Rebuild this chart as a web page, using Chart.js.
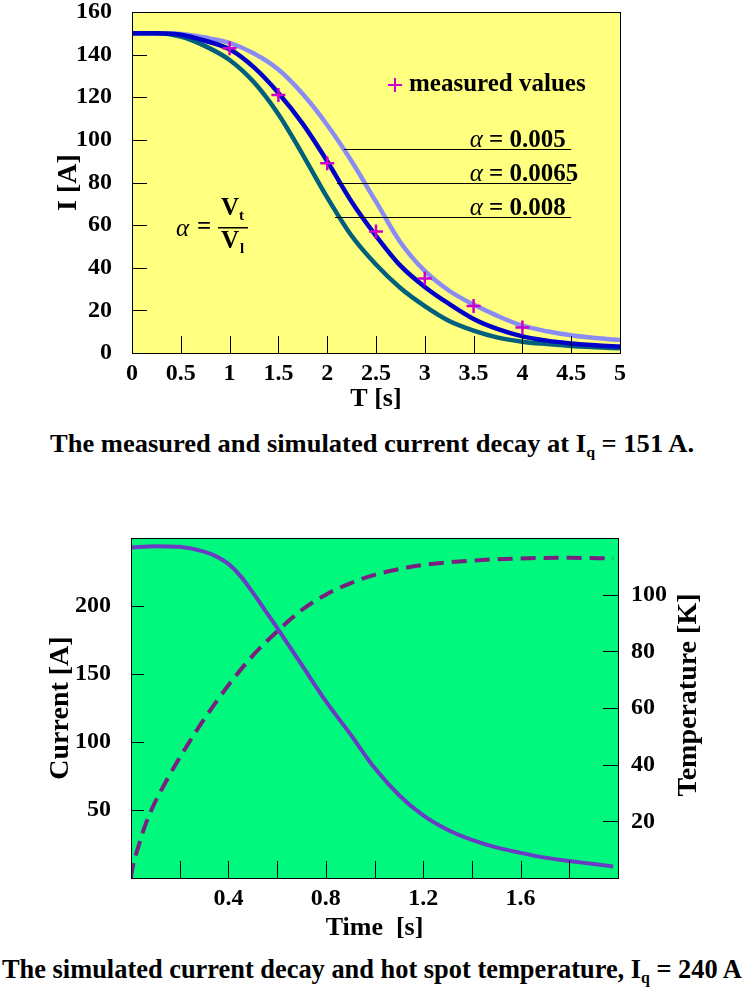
<!DOCTYPE html>
<html>
<head>
<meta charset="utf-8">
<script src="https://cdn.jsdelivr.net/npm/chart.js@4.4.1/dist/chart.umd.min.js"></script>
<style>
  body { margin: 0; background: #fff; width: 745px; height: 989px; position: relative; overflow: hidden; }
  canvas { position: absolute; left: 0; }
  #decay { top: 0; }
  #hotspot { top: 470px; }
  .caption { position: absolute; left: 0; white-space: nowrap; font-family: "Liberation Serif", serif; font-weight: bold; color: #000; line-height: 1; transform-origin: 0 0; }
  .caption sub { font-size: 60%; vertical-align: -0.3em; }
  #cap1 { top: 431px; font-size: 25px; }
  #cap2 { top: 955px; font-size: 28px; }
</style>
</head>
<body>
<canvas id="decay" width="745" height="420"></canvas>
<div class="caption" id="cap1">The measured and simulated current decay at I<sub>q</sub> = 151 A.</div>
<canvas id="hotspot" width="745" height="475"></canvas>
<div class="caption" id="cap2">The simulated current decay and hot spot temperature, I<sub>q</sub> = 240 A</div>
<script>
// ==========================================
// DATA - chart 1 : current decay, Iq = 151 A
// ==========================================

const tSim = [0, 0.25, 0.5, 0.75, 1, 1.25, 1.5, 1.75, 2, 2.25, 2.5, 2.75, 3, 3.25, 3.5, 3.75, 4, 4.25, 4.5, 4.75, 5];
const curveA005  = [150, 150, 149.7, 148, 145.5, 140.5, 133, 121.5, 107, 90, 71, 52, 38.5, 29.2, 22.7, 17.3, 12.8, 10.2, 8.3, 7, 6.1];
const curveA0065 = [150, 150, 149.3, 146.5, 142.5, 134, 122, 107.5, 90, 71, 55, 41, 31, 23, 16, 11.2, 7.8, 5.8, 4.5, 3.6, 3];
const curveA008  = [150, 150, 148.5, 144, 137.5, 127, 112, 93, 73, 55, 41.5, 30.5, 22, 15, 10.5, 7.2, 5.3, 4.2, 3.3, 2.7, 2.2];

const tMeas = [1, 1.5, 2, 2.5, 3, 3.5, 4];
const iMeas = [143, 121, 89, 57, 35, 22, 12];

const alphaText  = ["0.005", "0.0065", "0.008"];
const alphaLineI = [95.5, 80, 64];
const alphaLineT = [2.17, 2.1, 2.08];

// ==========================================
// DATA - chart 2 : hot spot, Iq = 240 A
// ==========================================

const tCurrent = [0, 0.1, 0.2, 0.3, 0.35, 0.4, 0.45, 0.5, 0.55, 0.6, 0.7, 0.8, 0.9, 1.0, 1.1, 1.2, 1.3, 1.4, 1.5, 1.6, 1.7, 1.8, 1.9, 1.98];
const current  = [243, 244, 243.5, 240, 236.5, 231, 222, 210, 197, 184, 157, 130, 106, 81, 61, 46, 35.5, 28, 22.5, 18.5, 15, 12.5, 10.3, 8.5];

const tTemp = [0, 0.005, 0.03, 0.06, 0.1, 0.15, 0.2, 0.3, 0.4, 0.5, 0.6, 0.7, 0.8, 0.9, 1.0, 1.1, 1.2, 1.4, 1.6, 1.8, 1.98];
const temp  = [0, 3, 11, 19, 27, 35, 42.5, 56, 68, 78.5, 87, 94.5, 100, 104, 107, 109, 110.5, 112, 112.8, 113, 112.8];

const timeLabels = [0.4, 0.8, 1.2, 1.6];

// ==========================================
// HELPERS
// ==========================================

const pts = (xs, ys) => xs.map((x, i) => ({ x: x, y: ys[i] }));
const serif = (size) => ({ family: '"Liberation Serif", serif', size: size, weight: 'bold' });

// fixed axis box, no extra room for the end labels
const fixWidth = (w) => (s) => { s.width = w; s.paddingTop = 0; s.paddingBottom = 0; };

// plot background, frame and tick marks drawn into the plot
const plotFrame = {
  id: 'plotFrame',
  beforeDraw(chart, args, opts) {
    const { ctx, chartArea: a } = chart;
    ctx.save();
    ctx.fillStyle = opts.fill;
    ctx.fillRect(a.left, a.top, a.right - a.left, a.bottom - a.top);
    ctx.restore();
  },
  afterDraw(chart, args, opts) {
    const { ctx, chartArea: a } = chart;
    ctx.save();
    ctx.strokeStyle = '#000';
    ctx.lineWidth = 1;
    ctx.strokeRect(Math.round(a.left) + 0.5, Math.round(a.top) + 0.5, Math.round(a.right - a.left), Math.round(a.bottom - a.top));
    ctx.beginPath();
    Object.keys(opts.ticks).forEach(id => {
      const len = opts.ticks[id];
      const s = chart.scales[id];
      s.ticks.forEach((t, i) => {
        const p = Math.round(s.getPixelForTick(i)) + 0.5;
        if (s.position === 'bottom') { ctx.moveTo(p, a.bottom); ctx.lineTo(p, a.bottom - len); }
        if (s.position === 'left') { ctx.moveTo(a.left, p); ctx.lineTo(a.left + len, p); }
        if (s.position === 'right') { ctx.moveTo(a.right, p); ctx.lineTo(a.right - len, p); }
      });
    });
    ctx.stroke();
    ctx.restore();
  }
};

// ==========================================
// CHART 1
// ==========================================

const decayNotes = {
  id: 'decayNotes',
  afterDraw(chart) {
    const { ctx, chartArea: a } = chart;
    const x = chart.scales.x, y = chart.scales.y;
    ctx.save();
    ctx.fillStyle = '#000';
    ctx.textBaseline = 'alphabetic';

    // leader lines + alpha labels
    const xEnd = x.getPixelForValue(4.5);
    const xTxt = x.getPixelForValue(3.46);
    alphaText.forEach((txt, i) => {
      const py = Math.round(y.getPixelForValue(alphaLineI[i])) + 0.5;
      ctx.strokeStyle = '#000';
      ctx.lineWidth = 1;
      ctx.beginPath();
      ctx.moveTo(x.getPixelForValue(alphaLineT[i]), py);
      ctx.lineTo(xEnd, py);
      ctx.stroke();
      ctx.font = 'italic 25px "Liberation Serif", serif';
      ctx.fillText('α', xTxt, py - 3);
      const w = ctx.measureText('α').width;
      ctx.font = 'bold 25px "Liberation Serif", serif';
      ctx.fillText(' = ' + txt, xTxt + w, py - 3);
    });

    // legend of the measured points
    const lx = a.left + 263, ly = a.top + 73;
    ctx.strokeStyle = '#cc00cc';
    ctx.lineWidth = 2;
    ctx.beginPath();
    ctx.moveTo(lx - 7, ly); ctx.lineTo(lx + 7, ly);
    ctx.moveTo(lx, ly - 7); ctx.lineTo(lx, ly + 7);
    ctx.stroke();
    ctx.font = 'bold 25px "Liberation Serif", serif';
    ctx.textBaseline = 'middle';
    ctx.fillText('measured values', lx + 14, ly);

    // alpha = Vt / Vl
    const fx = a.left + 44, fy = a.top + 216;
    ctx.font = 'italic 25px "Liberation Serif", serif';
    ctx.fillText('α', fx, fy + 1);
    ctx.font = 'bold 25px "Liberation Serif", serif';
    ctx.fillText('=', fx + 21, fy);
    ctx.fillRect(fx + 42, fy - 1, 30, 1.5);
    ctx.textBaseline = 'alphabetic';
    ctx.fillText('V', fx + 45, fy - 13);
    ctx.fillText('V', fx + 45, fy + 20);
    ctx.font = 'bold 15px "Liberation Serif", serif';
    ctx.fillText('t', fx + 63, fy - 8);
    ctx.fillText('l', fx + 64, fy + 25);
    ctx.restore();
  }
};

new Chart(document.getElementById('decay'), {
  type: 'scatter',
  data: {
    datasets: [
      { label: 'measured values', data: pts(tMeas, iMeas), pointStyle: 'cross', pointRadius: 7, pointBorderWidth: 2.5, borderColor: '#cc00cc', backgroundColor: '#cc00cc', showLine: false, order: 0 },
      { label: 'α = 0.0065', data: pts(tSim, curveA0065), showLine: true, borderColor: '#0000c8', borderWidth: 4.5, pointRadius: 0, cubicInterpolationMode: 'monotone', order: 1 },
      { label: 'α = 0.008', data: pts(tSim, curveA008), showLine: true, borderColor: '#005f7c', borderWidth: 4.5, pointRadius: 0, cubicInterpolationMode: 'monotone', order: 2 },
      { label: 'α = 0.005', data: pts(tSim, curveA005), showLine: true, borderColor: '#8a8cf4', borderWidth: 4.5, pointRadius: 0, cubicInterpolationMode: 'monotone', order: 3 }
    ]
  },
  options: {
    responsive: false,
    animation: false,
    events: [],
    layout: { padding: { top: 12, right: 125, left: 0, bottom: 0 } },
    plugins: {
      legend: { display: false },
      tooltip: { enabled: false },
      plotFrame: { fill: '#ffff80', ticks: { x: 17, y: 15 } }
    },
    scales: {
      x: {
        type: 'linear', min: 0, max: 5,
        afterFit: s => { s.height = 67; },
        grid: { display: false }, border: { display: false },
        ticks: { stepSize: 0.5, color: '#000', font: serif(24), padding: -2, maxRotation: 0, autoSkip: false, callback: v => String(v) },
        title: { display: true, text: 'T [s]', color: '#000', font: serif(26), padding: { top: 0, bottom: 5 } }
      },
      y: {
        type: 'linear', min: 0, max: 160,
        afterFit: fixWidth(132),
        grid: { display: false }, border: { display: false },
        ticks: { stepSize: 20, color: '#000', font: serif(24), padding: 12 },
        title: { display: true, text: 'I [A]', color: '#000', font: serif(28), padding: { top: 52, bottom: 0 } }
      }
    }
  },
  plugins: [plotFrame, decayNotes]
});

// ==========================================
// CHART 2
// ==========================================

const tempTitle = {
  id: 'tempTitle',
  afterDraw(chart) {
    const { ctx, chartArea: a } = chart;
    ctx.save();
    ctx.translate(689, (a.top + a.bottom) / 2 - 13);
    ctx.rotate(-Math.PI / 2);
    ctx.font = 'bold 28px "Liberation Serif", serif';
    ctx.fillStyle = '#000';
    ctx.textAlign = 'center';
    ctx.textBaseline = 'middle';
    ctx.fillText('Temperature [K]', 0, 0);
    ctx.restore();
  }
};

new Chart(document.getElementById('hotspot'), {
  type: 'scatter',
  data: {
    datasets: [
      { label: 'Current', data: pts(tCurrent, current), yAxisID: 'y', showLine: true, borderColor: '#6a3cc4', borderWidth: 4, pointRadius: 0, cubicInterpolationMode: 'monotone' },
      { label: 'Temperature', data: pts(tTemp, temp), yAxisID: 'y1', showLine: true, borderColor: '#7a1f80', borderWidth: 4, borderDash: [15, 8], pointRadius: 0, cubicInterpolationMode: 'monotone' }
    ]
  },
  options: {
    responsive: false,
    animation: false,
    events: [],
    layout: { padding: { top: 68, right: 0, left: 0, bottom: 0 } },
    plugins: {
      legend: { display: false },
      tooltip: { enabled: false },
      plotFrame: { fill: '#00f87c', ticks: { x: 17, y: 13, y1: 15 } }
    },
    scales: {
      x: {
        type: 'linear', min: 0, max: 2,
        afterFit: s => { s.height = 67; },
        grid: { display: false }, border: { display: false },
        ticks: {
          stepSize: 0.2, color: '#000', font: serif(24), padding: -2, maxRotation: 0, autoSkip: false,
          callback: v => timeLabels.includes(Math.round(v * 10) / 10) ? v.toFixed(1) : ''
        },
        title: { display: true, text: 'Time  [s]', color: '#000', font: serif(26), padding: { top: 0, bottom: 1 } }
      },
      y: {
        type: 'linear', position: 'left', min: 0, max: 250,
        afterFit: fixWidth(131),
        grid: { display: false }, border: { display: false },
        ticks: { stepSize: 50, color: '#000', font: serif(24), padding: 12, callback: v => (v === 0 || v === 250) ? '' : v },
        title: { display: true, text: 'Current [A]', color: '#000', font: serif(28), padding: { top: 44, bottom: 0 } }
      },
      y1: {
        type: 'linear', position: 'right', min: 0, max: 120,
        afterFit: fixWidth(127),
        grid: { display: false }, border: { display: false },
        ticks: { stepSize: 20, color: '#000', font: serif(24), padding: 5, callback: v => (v === 0 || v === 120) ? '' : v }
      }
    }
  },
  plugins: [plotFrame, tempTitle]
});

// ==========================================
// CAPTIONS - fit to the reference width
// ==========================================

function fitCaption(id, left, width) {
  const el = document.getElementById(id);
  el.style.left = left + 'px';
  el.style.transform = 'scaleX(' + (width / el.offsetWidth) + ')';
}
fitCaption('cap1', 50, 644);
fitCaption('cap2', 2, 740);
</script>
</body>
</html>
